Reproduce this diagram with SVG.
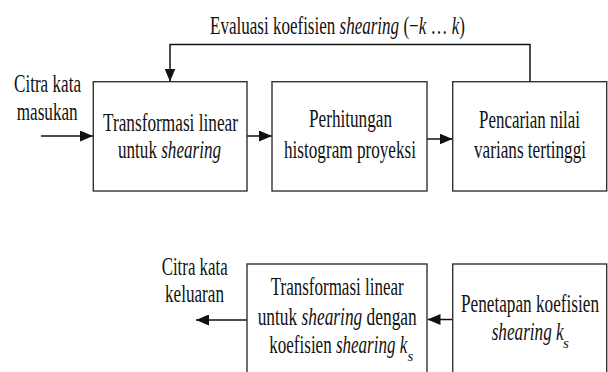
<svg xmlns="http://www.w3.org/2000/svg" width="608" height="372" viewBox="0 0 608 372">
<style>
  .box { fill: #ffffff; stroke: #333333; stroke-width: 1.4; }
  .ln { fill: none; stroke: #111111; stroke-width: 1.5; }
  .t { font-family: "Liberation Serif", "Times New Roman", serif; font-size: 25px; fill: #111111; }
  .it { font-style: italic; }
  .sub { font-style: italic; font-size: 15px; }
</style>
<defs>
  <marker id="ah" markerUnits="userSpaceOnUse" markerWidth="13" markerHeight="11" refX="13" refY="5.5" orient="auto">
    <path d="M0,0 L13,5.5 L0,11 z" fill="#111111"/>
  </marker>
</defs>
<rect x="0" y="0" width="608" height="372" fill="#ffffff"/>

<g id="connectors">
  <line class="ln" x1="41" y1="136" x2="93" y2="136" marker-end="url(#ah)"/>
  <line class="ln" x1="247" y1="136" x2="272" y2="136" marker-end="url(#ah)"/>
  <line class="ln" x1="427" y1="139" x2="452.5" y2="139" marker-end="url(#ah)"/>
  <polyline class="ln" points="530,81.7 530,44.5 170,44.5 170,81.5" marker-end="url(#ah)"/>
  <line class="ln" x1="452.5" y1="319.5" x2="427.5" y2="319.5" marker-end="url(#ah)"/>
  <line class="ln" x1="247" y1="320" x2="196" y2="320" marker-end="url(#ah)"/>
</g>

<g id="label-feedback">
  <text class="t" x="210" y="34" textLength="255" lengthAdjust="spacingAndGlyphs">Evaluasi koefisien <tspan class="it">shearing</tspan> (−<tspan class="it">k</tspan> … <tspan class="it">k</tspan>)</text>
</g>

<g id="label-input">
  <text class="t" x="14" y="92" textLength="67" lengthAdjust="spacingAndGlyphs">Citra kata</text>
  <text class="t" x="16.7" y="120" textLength="61" lengthAdjust="spacingAndGlyphs">masukan</text>
</g>

<g id="node-transform">
  <rect class="box" x="93.3" y="81.7" width="153.7" height="109.3"/>
  <text class="t" x="103" y="131" textLength="135" lengthAdjust="spacingAndGlyphs">Transformasi linear</text>
  <text class="t" x="118" y="158" textLength="103" lengthAdjust="spacingAndGlyphs">untuk <tspan class="it">shearing</tspan></text>
</g>

<g id="node-histogram">
  <rect class="box" x="272" y="81.7" width="155" height="109.3"/>
  <text class="t" x="309" y="127" textLength="83" lengthAdjust="spacingAndGlyphs">Perhitungan</text>
  <text class="t" x="284" y="158" textLength="132" lengthAdjust="spacingAndGlyphs">histogram proyeksi</text>
</g>

<g id="node-varians">
  <rect class="box" x="452.7" y="81.7" width="154" height="109.3"/>
  <text class="t" x="479" y="128" textLength="101" lengthAdjust="spacingAndGlyphs">Pencarian nilai</text>
  <text class="t" x="474" y="158" textLength="112" lengthAdjust="spacingAndGlyphs">varians tertinggi</text>
</g>

<g id="label-output">
  <text class="t" x="161.7" y="275" textLength="66" lengthAdjust="spacingAndGlyphs">Citra kata</text>
  <text class="t" x="165" y="302" textLength="59" lengthAdjust="spacingAndGlyphs">keluaran</text>
</g>

<g id="node-transform-ks">
  <rect class="box" x="247" y="264" width="180" height="130"/>
  <text class="t" x="270.7" y="295" textLength="133" lengthAdjust="spacingAndGlyphs">Transformasi linear</text>
  <text class="t" x="257.7" y="325" textLength="159" lengthAdjust="spacingAndGlyphs">untuk <tspan class="it">shearing</tspan> dengan</text>
  <text class="t" x="269.3" y="353" textLength="138" lengthAdjust="spacingAndGlyphs">koefisien <tspan class="it">shearing k</tspan></text>
  <text class="t sub" x="407.5" y="361">s</text>
</g>

<g id="node-penetapan">
  <rect class="box" x="452.7" y="264" width="154" height="130"/>
  <text class="t" x="461" y="312" textLength="138" lengthAdjust="spacingAndGlyphs">Penetapan koefisien</text>
  <text class="t it" x="491.7" y="340" textLength="72" lengthAdjust="spacingAndGlyphs">shearing k</text>
  <text class="t sub" x="563" y="348">s</text>
</g>
</svg>
